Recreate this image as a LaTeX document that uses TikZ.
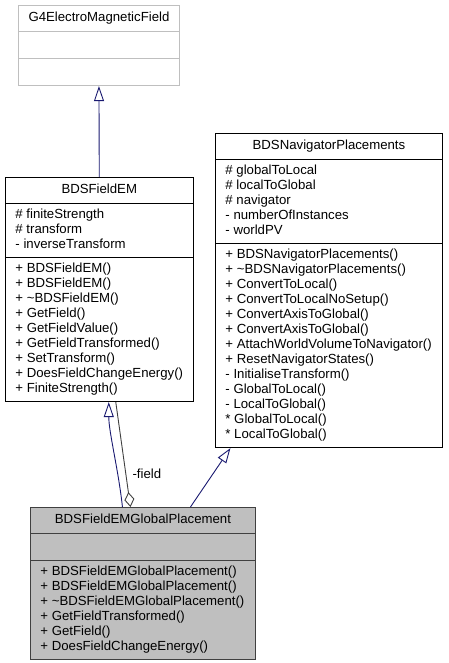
\documentclass[tikz,border=0pt]{standalone}
\usepackage{fontspec}
\setmainfont{Liberation Sans}
\usetikzlibrary{shapes,arrows.meta}

\definecolor{edgeblue}{RGB}{25,25,112}
\definecolor{darkline}{RGB}{64,64,64}
\definecolor{lightline}{RGB}{191,191,191}
\newcommand{\umlfont}{\fontsize{13.2}{15}\selectfont}
\newcommand{\titlestrut}{\rule[-6pt]{0pt}{17.5pt}}
\newcommand{\emptystrut}{\rule{0pt}{18pt}}

\begin{document}
\begin{tikzpicture}[x=1pt, y=-1pt,
    umlclass/.style={rectangle split, rectangle split parts=3,
      rectangle split part align={center,left,left}, draw, line width=0.9pt,
      inner xsep=10pt, inner ysep=4pt, anchor=north west, font=\umlfont,
      align=left, minimum width=#1},
    inherit/.style={draw=edgeblue, line width=0.9pt, -{Triangle[open, length=15pt, width=10pt]}},
    aggregate/.style={draw=darkline, line width=0.9pt, -{Diamond[open, length=15pt, width=10pt]}}]
  \useasboundingbox (0,0) rectangle (448,663);

  % Classes
  \node[umlclass=161, draw=lightline] (g4field) at (18,5)
    {\titlestrut G4ElectroMagneticField
     \nodepart{second}\emptystrut
     \nodepart{third}\emptystrut};
  \node[umlclass=187] (fieldem) at (5,177)
    {\titlestrut BDSFieldEM
     \nodepart{second}\strut\# finiteStrength\\ \# transform\\ - inverseTransform\strut
     \nodepart{third}\strut+ BDSFieldEM()\\ + BDSFieldEM()\\ + \textasciitilde BDSFieldEM()\\
       + GetField()\\ + GetFieldValue()\\ + GetFieldTransformed()\\ + SetTransform()\\
       + DoesFieldChangeEnergy()\\ + FiniteStrength()\strut};
  \node[umlclass=227] (navplace) at (215,133)
    {\titlestrut BDSNavigatorPlacements
     \nodepart{second}\strut\# globalToLocal\\ \# localToGlobal\\ \# navigator\\
       - numberOfInstances\\ - worldPV\strut
     \nodepart{third}\strut+ BDSNavigatorPlacements()\\ + \textasciitilde BDSNavigatorPlacements()\\
       + ConvertToLocal()\\ + ConvertToLocalNoSetup()\\ + ConvertAxisToGlobal()\\
       + ConvertAxisToGlobal()\\ + AttachWorldVolumeToNavigator()\\ + ResetNavigatorStates()\\
       - InitialiseTransform()\\ - GlobalToLocal()\\ - LocalToGlobal()\\
       * GlobalToLocal()\\ * LocalToGlobal()\strut};
  \node[umlclass=225, draw=darkline, fill=lightline] (globalplace) at (30,507)
    {\titlestrut BDSFieldEMGlobalPlacement
     \nodepart{second}\emptystrut
     \nodepart{third}\strut+ BDSFieldEMGlobalPlacement()\\ + BDSFieldEMGlobalPlacement()\\
       + \textasciitilde BDSFieldEMGlobalPlacement()\\ + GetFieldTransformed()\\
       + GetField()\\ + DoesFieldChangeEnergy()\strut};

  % Relations
  \draw[inherit] (fieldem.north) -- (g4field.south);
  \draw[inherit] ([xshift=-20.5pt]globalplace.north) .. controls +(-4,-37) and +(0,30) .. ([xshift=9.5pt]fieldem.south);
  \draw[aggregate] ([xshift=16.5pt]fieldem.south) -- ([xshift=-12.5pt]globalplace.north)
    node[pos=0.68, right=3pt, font=\umlfont]{-field};
  \draw[inherit] ([xshift=47.5pt]globalplace.north) -- ([xshift=-98.5pt]navplace.south);
\end{tikzpicture}
\end{document}
